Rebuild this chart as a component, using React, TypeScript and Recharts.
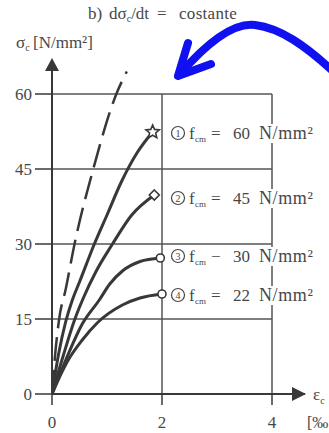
import React from 'react';
import { LineChart, Line, XAxis, YAxis, ReferenceLine } from 'recharts';

// ---- data ----
const xTicks = [0, 2, 4];
const yTicks = [0, 15, 30, 45, 60];
const gridY = [15, 30, 45, 60];
const gridX = [2, 4];

const dashedX = [0, 0.05, 0.13, 0.25, 0.41, 0.75, 1.17, 1.36];
const dashedY = [0, 7, 15, 21, 30, 45, 60, 64.5];

const c1X = [0, 0.12, 0.25, 0.37, 0.5, 0.77, 1.0, 1.26, 1.55, 1.83];
const c1Y = [0, 8, 14.5, 18.8, 22.4, 30, 35.8, 42.4, 48.3, 52.4];

const c2X = [0, 0.2, 0.41, 0.57, 0.8, 1.1, 1.45, 1.86];
const c2Y = [0, 7.5, 14.8, 19.2, 24.5, 30, 35.8, 39.8];

const c3X = [0, 0.25, 0.55, 0.86, 1.05, 1.28, 1.6, 1.97];
const c3Y = [0, 6.8, 14, 18.8, 22, 24.6, 26.5, 27.2];

const c4X = [0, 0.12, 0.28, 0.55, 0.83, 1.28, 1.6, 2.0];
const c4Y = [0, 3, 6.5, 10.8, 14.3, 17.8, 19.2, 20];

const labelNums = ['1', '2', '3', '4'];
const labelOps = ['=', '=', '−', '='];
const labelValues = ['60', '45', '30', '22'];
const labelYs = [134, 199, 257, 296];

const zip = (xs: number[], ys: number[]) => xs.map((x, i) => ({ x, y: ys[i] }));
const dashedData = zip(dashedX, dashedY);
const c1Data = zip(c1X, c1Y);
const c2Data = zip(c2X, c2Y);
const c3Data = zip(c3X, c3Y);
const c4Data = zip(c4X, c4Y);

const INK = '#383838';
const TXT = '#474747';
const FONT = '"Liberation Serif", "DejaVu Serif", serif';

const starPts = (cx: number, cy: number, R: number, r: number) => {
  const pts: string[] = [];
  for (let i = 0; i < 10; i++) {
    const a = -Math.PI / 2 + (i * Math.PI) / 5;
    const rad = i % 2 === 0 ? R : r;
    pts.push(`${cx + rad * Math.cos(a)},${cy + rad * Math.sin(a)}`);
  }
  return pts.join(' ');
};

const endDot = (kind: string, last: number) => (props: any) => {
  const { cx, cy, index } = props;
  if (index !== last || cx == null) return <g key={`e${kind}${index}`} />;
  if (kind === 'star')
    return <polygon key={`e${kind}${index}`} points={starPts(cx, cy, 7, 3.2)} fill="#fff" stroke={INK} strokeWidth={1.6} />;
  if (kind === 'diamond')
    return <polygon key={`e${kind}${index}`} points={`${cx},${cy - 5} ${cx + 5},${cy} ${cx},${cy + 5} ${cx - 5},${cy}`} fill="#fff" stroke={INK} strokeWidth={1.6} />;
  return <circle key={`e${kind}${index}`} cx={cx} cy={cy} r={4} fill="#fff" stroke={INK} strokeWidth={1.6} />;
};

export default function App() {
  return (
    <div style={{ position: 'absolute', left: 0, top: 0, width: 329, height: 433, background: '#fff', overflow: 'hidden' }}>
      <LineChart width={329} height={433} margin={{ top: 64, right: 24, bottom: 0, left: 0 }}>
        <XAxis
          dataKey="x"
          type="number"
          domain={[0, 4.6]}
          ticks={xTicks}
          allowDataOverflow
          height={39}
          axisLine={{ stroke: INK, strokeWidth: 2 }}
          tickLine={{ stroke: INK, strokeWidth: 1.5 }}
          tickSize={11}
          tickMargin={11}
          tick={{ fill: TXT, fontSize: 17, fontFamily: FONT }}
        />
        <YAxis
          type="number"
          domain={[0, 66]}
          ticks={yTicks}
          allowDataOverflow
          width={52}
          axisLine={{ stroke: INK, strokeWidth: 2 }}
          tickLine={{ stroke: INK, strokeWidth: 1.5 }}
          tickSize={17}
          tickMargin={3}
          tick={{ fill: TXT, fontSize: 17, fontFamily: FONT }}
        />
        {gridY.map((v) => (
          <ReferenceLine key={`gy${v}`} segment={[{ x: 0, y: v }, { x: 4, y: v }]} stroke="#555" strokeWidth={1.5} />
        ))}
        {gridX.map((v) => (
          <ReferenceLine key={`gx${v}`} segment={[{ x: v, y: 0 }, { x: v, y: 60 }]} stroke="#555" strokeWidth={1.5} />
        ))}
        <Line data={dashedData} dataKey="y" type="monotone" stroke={INK} strokeWidth={2.5} strokeDasharray="24 9" dot={false} isAnimationActive={false} />
        <Line data={c1Data} dataKey="y" type="monotone" stroke={INK} strokeWidth={3} dot={endDot('star', c1X.length - 1)} isAnimationActive={false} />
        <Line data={c2Data} dataKey="y" type="monotone" stroke={INK} strokeWidth={3} dot={endDot('diamond', c2X.length - 1)} isAnimationActive={false} />
        <Line data={c3Data} dataKey="y" type="monotone" stroke={INK} strokeWidth={3} dot={endDot('circle', c3X.length - 1)} isAnimationActive={false} />
        <Line data={c4Data} dataKey="y" type="monotone" stroke={INK} strokeWidth={3} dot={endDot('circle', c4X.length - 1)} isAnimationActive={false} />
      </LineChart>
      <svg width={329} height={433} style={{ position: 'absolute', left: 0, top: 0, pointerEvents: 'none' }}>
        {/* axis arrow heads */}
        <polygon points="45,71 52,58 59,71" fill={INK} />
        <polygon points="292,387 306,394 292,401" fill={INK} />
        {/* title */}
        <text y={19} fontSize={17} fontFamily={FONT} fill={TXT}>
          <tspan x={88}>b)</tspan>
          <tspan x={109}>dσ</tspan>
          <tspan fontSize={10} dy={3}>c</tspan>
          <tspan dy={-3}>/dt</tspan>
          <tspan x={157}>=</tspan>
          <tspan x={179} letterSpacing={0.3}>costante</tspan>
        </text>
        {/* y axis label */}
        <text y={48} fontSize={17} fontFamily={FONT} fill={TXT}>
          <tspan x={16}>σ</tspan>
          <tspan fontSize={10} dy={3}>c</tspan>
          <tspan dy={-3} x={33}>[N/mm²]</tspan>
        </text>
        {/* x axis label */}
        <text x={313} y={400} fontSize={17} fontFamily={FONT} fill={TXT}>
          ε<tspan fontSize={10} dy={4}>c</tspan>
        </text>
        <text x={307} y={428} fontSize={16} fontFamily={FONT} fill={TXT}>[‰</text>
        {/* series labels */}
        {labelNums.map((n, i) => (
          <g key={`lab${n}`}>
            <rect x={169} y={labelYs[i] - 10} width={155} height={19} fill="#fff" />
            <circle cx={178} cy={labelYs[i] - 1} r={6.5} fill="none" stroke={TXT} strokeWidth={1.2} />
            <text x={178} y={labelYs[i] + 3} fontSize={10} fontFamily={FONT} fill={TXT} textAnchor="middle">{n}</text>
            <text y={labelYs[i] + 5} fontSize={17} fontFamily={FONT} fill={TXT}>
              <tspan x={189}>f</tspan>
              <tspan x={195} dy={3} fontSize={9}>cm</tspan>
              <tspan x={211} dy={-3}>{labelOps[i]}</tspan>
              <tspan x={233}>{labelValues[i]}</tspan>
              <tspan x={259} fontSize={18} letterSpacing={0.6}>N/mm²</tspan>
            </text>
          </g>
        ))}
        {/* blue annotation arrow */}
        <path d="M 179 75 C 205 45, 232 22, 255 25 C 280 28, 305 45, 336 74" fill="none" stroke="#1010f0" strokeWidth={8} strokeLinecap="round" />
        <polyline points="188,43 178,76 211,64" fill="none" stroke="#1010f0" strokeWidth={8} strokeLinecap="round" strokeLinejoin="round" />
      </svg>
    </div>
  );
}
